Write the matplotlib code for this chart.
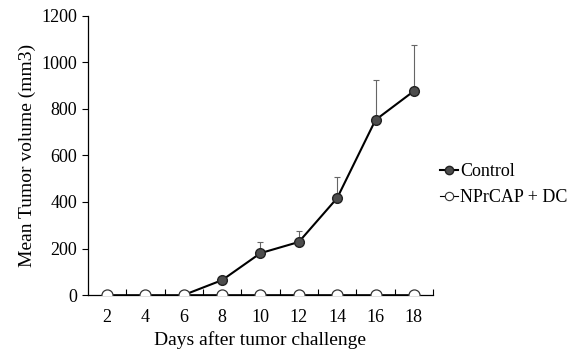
import numpy as np
import matplotlib.pyplot as plt
from matplotlib.ticker import FixedLocator

plt.rcParams['font.family'] = ['Liberation Serif', 'DejaVu Serif']

# data
days = [2, 4, 6, 8, 10, 12, 14, 16, 18]
control = [0, 0, 0, 64, 180, 228, 417, 753, 877]
control_err = [0, 0, 0, 8, 48, 47, 90, 172, 198]
nprcap_dc = [0, 0, 0, 0, 0, 0, 0, 0, 0]

fig = plt.figure(figsize=(5.86, 3.55), dpi=100)
ax = fig.add_axes([0.150, 0.169, 0.589, 0.786])

pos = np.arange(1, len(days) + 1)

# control: line starts at day 6
ax.errorbar(pos[2:], control[2:], yerr=[np.zeros(len(pos) - 2), control_err[2:]],
            fmt='none', ecolor='#666666', elinewidth=0.8, capsize=2, capthick=0.8, zorder=2)
ax.plot(pos[2:], control[2:], color='black', lw=1.5, marker='o', ms=7,
        mfc='#4d4d4d', mec='#222222', mew=1, zorder=3)
ax.plot(pos, nprcap_dc, color='black', lw=1.2, marker='o', ms=8,
        mfc='white', mec='#333333', mew=0.9, zorder=4)

# legend handles
h1, = ax.plot([], [], color='black', lw=1.5, marker='o', ms=6, mfc='#4d4d4d', mec='#222222')
h2, = ax.plot([], [], color='black', lw=0.8, marker='o', ms=6, mfc='white', mec='#333333', mew=0.8)
ax.legend([h1, h2], ['Control', 'NPrCAP + DC'], loc='center left', bbox_to_anchor=(1.0, 0.395),
          frameon=False, fontsize=13, handlelength=1.0, handletextpad=0.1, labelspacing=0.5,
          borderaxespad=0.2, borderpad=0.2)

ax.set_xlim(0.5, len(days) + 0.5)
ax.set_ylim(0, 1200)
ax.set_xticks(pos)
ax.set_xticklabels([str(d) for d in days])
ax.xaxis.set_minor_locator(FixedLocator(np.arange(1.5, len(days) + 1, 1)))
ax.tick_params(axis='x', which='major', length=0, labelsize=13, pad=10)
ax.tick_params(axis='x', which='minor', direction='in', length=4, width=0.8)
ax.set_yticks(np.arange(0, 1201, 200))
ax.tick_params(axis='y', direction='out', length=4, width=0.8, labelsize=13)

for s in ['top', 'right']:
    ax.spines[s].set_visible(False)
ax.spines['left'].set_linewidth(0.9)
ax.spines['bottom'].set_linewidth(0.9)

ax.set_xlabel('Days after tumor challenge', fontsize=14, labelpad=4)
ax.set_ylabel('Mean Tumor volume (mm3)', fontsize=14, labelpad=4)

fig.savefig('out.png', dpi=100)
